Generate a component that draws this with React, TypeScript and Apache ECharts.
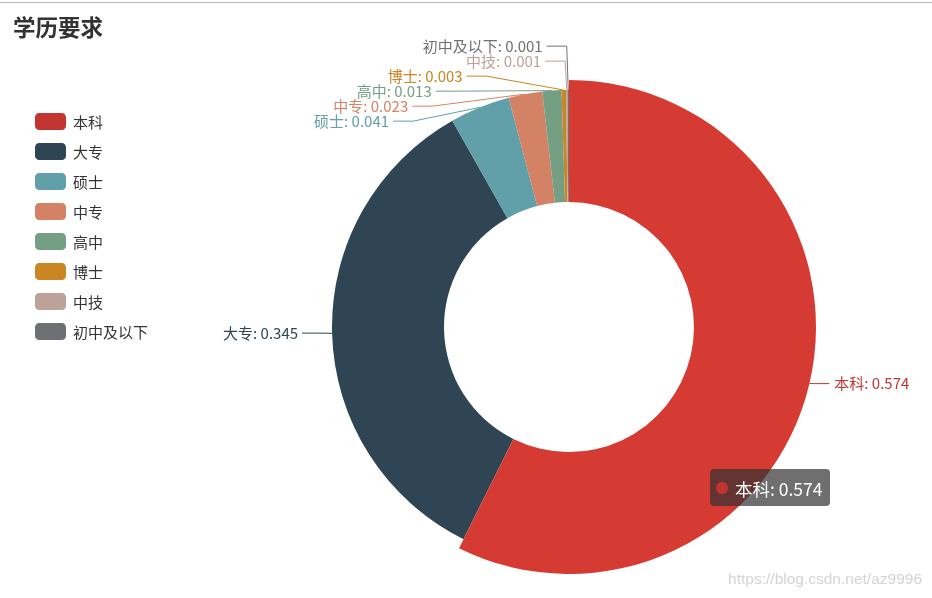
import React, { useEffect, useRef } from "react";
import * as echarts from "echarts";

const titleText = "学历要求";
const categories = ["本科", "大专", "硕士", "中专", "高中", "博士", "中技", "初中及以下"];
const values = [0.574, 0.345, 0.041, 0.023, 0.013, 0.003, 0.001, 0.001];
const colors = ["#c23531", "#2f4554", "#61a0a8", "#d48265", "#749f83", "#ca8622", "#bda29a", "#6e7074"];
const hoverIndex = 0;
const watermark = "https://blog.csdn.net/az9996";

const FONT = "'Microsoft YaHei', 'Noto Sans CJK SC', sans-serif";

// pie geometry
const W = 932;
const H = 598;
const CX = 569;
const CY = 327;
const R_IN = 125;
const R_OUT = 237;
const HOVER = 10;
const LEN = 15;
const LEN2 = 15;
const LABEL_H = 15;
const LABEL_R = 270;

type Lab = {
  idx: number;
  dx: number;
  dy: number;
  x2: number;
  ny: number;
  y: number;
  h: number;
};

// classic (v4-style) outer-label layout computed from the data
function computeLabelLayout() {
  const total = values.reduce((a, b) => a + b, 0);
  let cum = 0;
  const labs: Lab[] = values.map((v, idx) => {
    const mid = ((cum + v / 2) / total) * Math.PI * 2;
    cum += v;
    const dx = Math.sin(mid);
    const dy = -Math.cos(mid);
    const x2 = CX + (R_OUT + LEN) * dx;
    const y2 = CY + (R_OUT + LEN) * dy;
    return { idx, dx, dy, x2, ny: y2, y: y2, h: LABEL_H };
  });
  const result: Record<number, any> = {};
  const sides = [labs.filter((l) => l.dx < 0), labs.filter((l) => l.dx >= 0)];
  sides.forEach((list, s) => {
    const dir = s === 0 ? -1 : 1;
    list.sort((a, b) => a.y - b.y);
    const n = list.length;
    const shiftUp = (end: number, delta: number) => {
      for (let j = end; j >= 0; j--) {
        list[j].y -= delta;
        if (j > 0 && list[j].y > list[j - 1].y + list[j - 1].h) break;
      }
    };
    const shiftDown = (start: number, end: number, delta: number) => {
      for (let j = start; j < end; j++) {
        list[j].y += delta;
        if (j > start && j + 1 < end && list[j + 1].y > list[j].y + list[j].h) {
          shiftUp(j, delta / 2);
          return;
        }
      }
      shiftUp(end - 1, delta / 2);
    };
    let lastY = 0;
    for (let i = 0; i < n; i++) {
      const d = list[i].y - lastY;
      if (d < 0) shiftDown(i, n, -d);
      lastY = list[i].y + list[i].h;
    }
    if (H - lastY < 0) shiftUp(n - 1, lastY - H);
    const up = list.filter((l) => l.y < CY);
    const down = list.filter((l) => l.y >= CY);
    const place = (arr: Lab[], isDown: boolean) => {
      let last = isDown ? Number.MAX_VALUE : 0;
      arr.forEach((l) => {
        const shifted = Math.abs(l.y - l.ny) >= 1;
        const ady = Math.abs(l.y - CY);
        let deltaX: number;
        if (!shifted) deltaX = Math.abs(l.x2 - CX) + LEN2;
        else if (ady < R_OUT + LEN) deltaX = Math.sqrt(LABEL_R * LABEL_R - ady * ady);
        else deltaX = Math.abs(l.x2 - CX) + LEN2 + 6.5;
        if (isDown && deltaX >= last) deltaX = last - 10;
        if (!isDown && deltaX <= last) deltaX = last + 10;
        last = deltaX;
        const endX = CX + dir * deltaX;
        const midX = shifted ? endX - dir * 20 : l.x2;
        const rr = R_OUT + (l.idx === hoverIndex ? HOVER : 0);
        const p0 = [CX + rr * l.dx, CY + rr * l.dy];
        const y = l.y - 1;
        result[l.idx] = {
          x: endX + (dir < 0 ? -4 : 5),
          y: y - 1,
          align: dir < 0 ? "right" : "left",
          verticalAlign: "middle",
          labelLinePoints: [p0, [midX, y], [endX, y]],
        };
      });
    };
    place(up, false);
    place(down, true);
  });
  return result;
}

export default function App() {
  const ref = useRef<HTMLDivElement>(null);
  useEffect(() => {
    if (!ref.current) return;
    const chart = echarts.init(ref.current, null, { renderer: "svg" });
    const layout = computeLabelLayout();
    const data = categories.map((name, i) => ({
      name,
      value: values[i],
      itemStyle: { color: colors[i] },
      label: { color: colors[i] },
      emphasis:
        i === hoverIndex
          ? { itemStyle: { color: "#d63b33" }, label: { color: colors[i] } }
          : undefined,
    }));
    chart.setOption({
      animation: false,
      textStyle: { fontFamily: FONT },
      title: {
        text: titleText,
        left: 8,
        top: 10,
        textStyle: { fontSize: 22.5, fontWeight: "bold", color: "#333", fontFamily: FONT },
      },
      legend: {
        orient: "vertical",
        left: 35,
        top: 113,
        padding: 0,
        icon: "roundRect",
        itemWidth: 31,
        itemHeight: 17,
        itemGap: 13,
        data: categories,
        textStyle: { fontSize: 15, color: "#333", fontFamily: FONT, padding: [0, 0, 0, 2] },
      },
      series: [
        {
          type: "pie",
          center: [CX, CY],
          radius: [R_IN, R_OUT],
          startAngle: 90,
          clockwise: true,
          avoidLabelOverlap: false,
          data,
          label: {
            formatter: "{b}: {c}",
            fontSize: 15,
            lineHeight: 14,
            fontFamily: FONT,
          },
          labelLine: { length: LEN, length2: LEN2 },
          labelLayout: (params: any) => layout[params.dataIndex] || {},
          emphasis: { scale: true, scaleSize: HOVER },
        },
      ],
      graphic: [
        {
          type: "line",
          shape: { x1: 0, y1: 2.5, x2: W, y2: 2.5 },
          style: { stroke: "#bbbbbb", lineWidth: 1 },
          silent: true,
        },
        {
          type: "rect",
          z: 100,
          shape: { x: 710, y: 469, width: 120, height: 37, r: 4 },
          style: { fill: "rgba(50,50,50,0.7)" },
        },
        {
          type: "circle",
          z: 101,
          shape: { cx: 722, cy: 488, r: 6 },
          style: { fill: colors[hoverIndex] },
        },
        {
          type: "text",
          z: 101,
          x: 735,
          y: 488,
          style: {
            text: `${categories[hoverIndex]}: ${values[hoverIndex]}`,
            fill: "#fff",
            fontSize: 17.5,
            fontFamily: FONT,
            verticalAlign: "middle",
          },
        },
        {
          type: "text",
          right: 10,
          top: 570,
          z: 101,
          style: {
            text: watermark,
            fill: "#d4d4d4",
            fontSize: 15.5,
            fontFamily: "Arial, 'Liberation Sans', sans-serif",
          },
          silent: true,
        },
      ],
    });
    chart.dispatchAction({ type: "highlight", seriesIndex: 0, dataIndex: hoverIndex });
    return () => chart.dispose();
  }, []);
  return (
    <div
      ref={ref}
      style={{ position: "fixed", left: 0, top: 0, width: W, height: H }}
    />
  );
}
